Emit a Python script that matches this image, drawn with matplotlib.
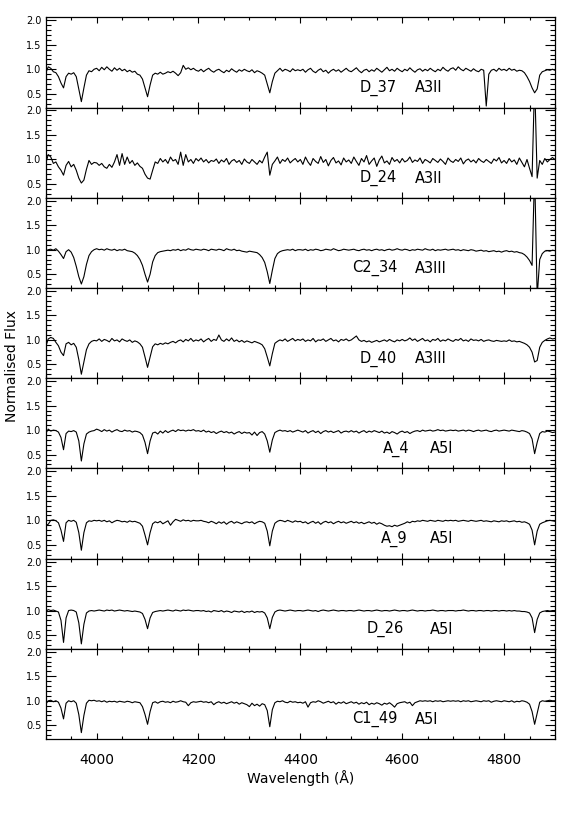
import numpy as np
import matplotlib
matplotlib.use("Agg")
import matplotlib.pyplot as plt
from matplotlib.ticker import MultipleLocator

# wavelength sampling grid (Angstrom), 5 A steps from 3900 to 4900
wavelength = np.arange(3900, 4901, 5)

names = ["D_37", "D_24", "C2_34", "D_40", "A_4", "A_9", "D_26", "C1_49"]
classes = ["A3II", "A3II", "A3III", "A3III", "A5I", "A5I", "A5I", "A5I"]
name_x = [4517, 4517, 4501, 4517, 4562, 4558, 4531, 4501]
class_x = [4625, 4625, 4625, 4625, 4654, 4654, 4654, 4625]

flux_D37 = [
 0.92, 1.05, 1.02, 0.95, 0.93, 0.85, 0.72, 0.62, 0.85, 0.92, 0.90, 0.93, 0.85, 0.60, 0.34, 0.62, 0.88, 0.97, 0.95, 1.00,
 1.02, 0.97, 1.04, 0.99, 1.05, 1.00, 0.96, 1.03, 0.98, 1.02, 0.97, 1.00, 0.95, 0.98, 0.94, 0.96, 0.90, 0.88, 0.80, 0.62,
 0.44, 0.68, 0.88, 0.92, 0.90, 0.94, 0.90, 0.92, 0.95, 0.93, 0.96, 0.92, 0.87, 0.93, 1.08, 1.00, 1.03, 0.99, 1.02, 0.98,
 0.96, 1.00, 0.95, 0.99, 1.02, 0.97, 0.94, 0.98, 1.00, 0.96, 0.93, 0.98, 0.95, 1.01, 0.97, 0.94, 0.99, 0.96, 1.00, 0.97,
 0.95, 0.99, 0.93, 0.97, 0.95, 0.92, 0.88, 0.70, 0.52, 0.75, 0.92, 0.97, 1.02, 0.96, 1.00, 0.98, 0.95, 1.01, 0.97, 0.99,
 0.97, 1.00, 0.94, 0.99, 1.02, 0.96, 0.93, 0.98, 1.01, 0.95, 0.98, 0.92, 0.97, 1.00, 0.96, 0.99, 0.94, 0.98, 1.02, 0.97,
 0.95, 0.99, 1.03, 0.97, 0.93, 0.98, 1.00, 0.95, 0.99, 0.96, 1.02, 0.98, 0.94, 0.99, 1.04, 0.97, 1.00, 0.96, 1.02, 0.98,
 0.95, 1.00, 0.97, 1.03, 0.98, 0.94, 0.99, 1.01, 0.96, 1.00, 0.97, 1.02, 0.98, 0.95, 1.00, 0.97, 1.04, 0.99, 0.96, 1.01,
 1.03, 0.98, 1.05, 1.00, 0.97, 1.02, 0.99, 0.96, 1.01, 0.97, 0.95, 1.00, 0.98, 0.25, 0.90, 0.98, 1.00, 0.96, 1.02, 0.98,
 1.00, 0.97, 1.02, 0.98, 1.00, 0.96, 0.98, 0.97, 0.93, 0.85, 0.75, 0.62, 0.52, 0.60, 0.88, 0.95, 0.97, 0.99, 0.98, 1.00,
 0.98]

flux_D24 = [
 0.92, 1.10, 1.05, 0.92, 0.95, 0.85, 0.78, 0.68, 0.88, 0.96, 0.85, 0.90, 0.78, 0.62, 0.52, 0.58, 0.80, 0.98, 0.90, 0.94,
 0.93, 0.88, 0.92, 0.85, 0.82, 0.90, 0.84, 0.95, 1.10, 0.88, 1.12, 0.90, 1.05, 0.92, 0.98, 0.88, 0.93, 0.86, 0.82, 0.70,
 0.62, 0.60, 0.78, 0.95, 0.92, 1.02, 0.95, 1.00, 0.92, 1.05, 0.97, 1.00, 0.90, 1.15, 0.88, 1.10, 0.95, 1.00, 0.92, 1.02,
 0.97, 1.03, 0.95, 1.00, 0.93, 0.98, 0.96, 1.01, 0.92, 0.99, 0.95, 1.02, 0.90, 0.97, 1.00, 0.94, 0.98, 0.90, 1.01, 0.95,
 0.92, 1.00, 0.95, 0.90, 0.98, 0.93, 1.05, 1.15, 0.68, 0.90, 0.97, 1.05, 0.92, 1.00, 0.96, 1.03, 0.93, 0.98, 1.02, 0.95,
 1.00, 0.90, 1.05, 0.95, 0.88, 1.02, 0.96, 0.92, 1.06, 0.94, 1.00, 0.87, 0.98, 1.04, 0.93, 0.97, 0.89, 1.03, 0.95, 0.99,
 0.92, 1.05, 0.96, 0.88, 1.02, 0.95, 1.08, 0.90, 0.97, 1.03, 0.86, 0.99, 1.07, 0.93, 0.97, 0.90, 1.04, 0.96, 1.00, 0.93,
 1.02, 0.95, 0.98, 1.05, 0.94, 0.99, 0.96, 1.03, 0.92, 1.00, 0.97, 0.93, 1.02, 0.98, 0.94, 1.01, 0.96, 0.90, 1.03, 0.97,
 0.94, 1.00, 0.96, 1.03, 0.91, 0.98, 1.01, 0.95, 0.99, 0.93, 1.02, 0.97, 0.94, 1.00, 0.96, 0.92, 1.01, 0.97, 1.04, 0.93,
 0.98, 0.92, 1.02, 0.95, 0.99, 0.90, 1.03, 0.94, 0.85, 1.00, 0.82, 0.65, 2.60, 0.62, 0.98, 0.90, 1.02, 0.95, 1.00, 1.04,
 1.00]

flux_C234 = [
 0.97, 1.00, 1.01, 0.99, 1.02, 0.97, 0.90, 0.82, 0.96, 1.00, 0.95, 0.84, 0.66, 0.45, 0.30, 0.45, 0.70, 0.88, 0.96, 1.00,
 1.02, 1.00, 1.01, 0.99, 1.02, 1.00, 0.99, 1.01, 0.98, 1.00, 0.99, 1.01, 0.98, 0.97, 0.96, 0.93, 0.88, 0.80, 0.68, 0.50,
 0.34, 0.50, 0.75, 0.88, 0.94, 0.96, 0.97, 0.98, 0.99, 0.98, 1.00, 0.99, 1.01, 0.98, 1.00, 0.99, 1.02, 1.00, 0.99, 1.01,
 1.00, 0.99, 1.01, 1.00, 0.98, 1.01, 1.00, 0.99, 1.01, 1.00, 0.98, 1.02, 1.00, 0.99, 1.01, 0.98, 0.99, 0.97, 0.96, 0.95,
 0.97, 0.96, 0.95, 0.94, 0.90, 0.84, 0.74, 0.55, 0.31, 0.58, 0.82, 0.92, 0.96, 0.98, 0.99, 1.00, 0.99, 1.01, 0.98, 1.00,
 1.00, 0.99, 1.01, 0.98, 1.00, 0.99, 1.01, 1.00, 0.98, 0.99, 1.01, 1.00, 0.99, 1.02, 1.00, 0.98, 0.99, 1.01, 1.00, 0.99,
 1.00, 1.01, 0.99, 0.98, 1.00, 1.01, 0.99, 1.00, 0.98, 1.00, 1.01, 0.99, 1.00, 0.98, 1.00, 1.01, 0.99, 1.00, 1.02, 1.00,
 0.99, 1.01, 1.00, 0.98, 1.00, 0.99, 1.01, 1.00, 0.99, 1.02, 1.00, 0.99, 1.01, 0.98, 1.00, 0.99, 1.00, 1.01, 0.99, 1.00,
 1.01, 0.99, 1.00, 0.98, 1.00, 0.99, 0.98, 1.00, 0.99, 0.97, 0.98, 0.99, 0.97, 0.98, 0.96, 0.97, 0.98, 0.96, 0.97, 0.95,
 0.97, 0.98, 0.96, 0.97, 0.95, 0.96, 0.94, 0.93, 0.90, 0.85, 0.78, 0.68, 2.60, 0.05, 0.80, 0.92, 0.97, 0.98, 0.97, 0.99,
 0.98]

flux_D40 = [
 0.86, 1.02, 1.05, 1.03, 0.95, 0.88, 0.75, 0.68, 0.92, 0.95, 0.90, 0.93, 0.85, 0.60, 0.30, 0.55, 0.80, 0.92, 0.97, 0.99,
 0.98, 1.02, 0.97, 1.01, 0.99, 0.96, 1.03, 0.98, 1.00, 0.96, 1.02, 0.99, 0.97, 1.00, 0.95, 0.98, 0.96, 0.92, 0.85, 0.65,
 0.44, 0.65, 0.86, 0.92, 0.90, 0.93, 0.91, 0.94, 0.92, 0.95, 0.97, 0.94, 0.98, 1.00, 0.96, 1.01, 0.98, 1.03, 0.97, 1.00,
 0.98, 1.02, 0.96, 1.00, 1.03, 0.97, 1.01, 0.99, 1.10, 1.00, 0.97, 1.02, 0.98, 1.04, 0.97, 1.00, 0.96, 0.99, 0.95, 0.98,
 0.96, 0.94, 0.97, 0.95, 0.93, 0.90, 0.82, 0.65, 0.47, 0.72, 0.93, 0.97, 1.00, 0.98, 1.02, 0.97, 1.00, 1.03, 0.98, 1.01,
 0.99, 1.02, 0.97, 1.00, 0.98, 1.03, 0.96, 1.00, 0.99, 1.02, 0.97, 1.00, 1.03, 0.98, 1.00, 0.96, 1.01, 0.99, 1.02, 0.98,
 1.00, 1.04, 1.08, 1.00, 0.97, 0.99, 0.96, 0.98, 0.95, 0.97, 0.99, 0.96, 0.98, 1.00, 0.97, 1.01, 0.98, 0.96, 1.00, 0.98,
 1.01, 0.98, 1.00, 1.04, 0.99, 1.02, 0.97, 1.00, 1.03, 0.98, 1.00, 0.96, 1.01, 0.99, 1.03, 0.97, 1.00, 0.98, 1.02, 0.99,
 0.97, 1.01, 0.99, 1.03, 0.98, 1.00, 0.97, 1.02, 0.99, 1.00, 0.98, 1.01, 0.97, 0.99, 1.00, 0.98, 0.97, 0.99, 0.98, 0.97,
 0.98, 0.97, 1.00, 0.97, 0.98, 0.96, 0.97, 0.95, 0.93, 0.90, 0.85, 0.75, 0.55, 0.58, 0.85, 0.95, 0.99, 1.02, 1.04, 1.02,
 1.03]

flux_A4 = [
 0.93, 1.02, 0.98, 1.00, 0.99, 0.96, 0.85, 0.60, 0.93, 0.98, 0.97, 0.99, 0.96, 0.78, 0.37, 0.72, 0.92, 0.96, 0.98, 0.99,
 1.02, 1.00, 0.97, 1.01, 0.98, 1.00, 0.96, 0.99, 1.01, 0.98, 0.97, 1.00, 0.98, 0.99, 0.96, 0.98, 0.97, 0.95, 0.90, 0.75,
 0.52, 0.78, 0.94, 0.96, 0.92, 0.98, 0.94, 0.99, 0.95, 0.98, 1.00, 0.97, 1.01, 0.99, 1.00, 0.98, 1.00, 0.99, 1.01, 0.98,
 0.99, 0.97, 1.00, 0.96, 0.98, 0.95, 0.97, 0.93, 0.96, 0.98, 0.95, 0.97, 0.94, 0.96, 0.92, 0.95, 0.97, 0.93, 0.96, 0.94,
 0.95, 0.90, 0.96, 0.89, 0.95, 0.97, 0.92, 0.78, 0.55, 0.80, 0.95, 0.98, 1.00, 0.98, 0.99, 0.97, 0.99, 0.96, 0.98, 1.00,
 0.98, 0.96, 0.99, 0.94, 0.97, 0.99, 0.95, 0.98, 0.93, 0.97, 0.99, 0.96, 0.98, 0.95, 0.97, 0.99, 0.94, 0.97, 0.98, 0.96,
 0.99, 0.96, 0.98, 0.94, 0.97, 0.99, 0.95, 0.98, 0.96, 0.99, 0.97, 0.95, 0.98, 0.94, 0.96, 0.93, 0.97, 0.95, 0.92, 0.96,
 0.98, 0.95, 0.97, 0.93, 0.96, 0.98, 0.99, 0.97, 1.00, 0.98, 0.99, 1.00, 0.98, 0.99, 1.01, 0.99, 1.00, 0.98, 0.99, 1.00,
 0.99, 1.00, 0.98, 0.99, 1.00, 0.98, 1.00, 0.99, 0.97, 0.99, 1.00, 0.98, 0.99, 1.00, 0.98, 0.97, 0.99, 1.00, 0.98, 0.99,
 1.00, 0.99, 0.98, 1.00, 0.99, 0.98, 0.97, 0.99, 0.98, 0.96, 0.93, 0.82, 0.52, 0.75, 0.93, 0.97, 0.96, 0.98, 0.97, 0.95,
 0.96]

flux_A9 = [
 0.90, 0.92, 1.00, 1.01, 0.99, 0.95, 0.80, 0.57, 0.95, 1.00, 0.98, 1.00, 0.96, 0.75, 0.39, 0.75, 0.95, 0.99, 0.98, 1.00,
 0.99, 1.00, 0.98, 1.00, 0.97, 0.99, 0.95, 0.98, 1.00, 0.99, 0.97, 0.98, 0.96, 0.99, 0.97, 0.98, 0.96, 0.94, 0.88, 0.70,
 0.50, 0.75, 0.93, 0.97, 0.95, 0.98, 0.93, 0.96, 0.99, 0.90, 0.97, 1.02, 1.00, 0.98, 1.01, 0.99, 1.00, 0.98, 1.00, 0.99,
 0.99, 1.00, 0.98, 0.97, 0.95, 0.98, 0.96, 0.93, 0.97, 0.94, 0.97, 0.92, 0.96, 0.98, 0.94, 0.97, 0.95, 0.93, 0.96, 0.97,
 0.95, 0.97, 0.93, 0.96, 0.98, 0.97, 0.94, 0.78, 0.48, 0.78, 0.94, 0.98, 1.00, 0.99, 0.97, 1.00, 0.98, 0.96, 0.99, 0.97,
 0.98, 0.95, 0.97, 0.93, 0.96, 0.98, 0.94, 0.97, 0.92, 0.96, 0.98, 0.95, 0.97, 0.93, 0.96, 0.98, 0.95, 0.97, 0.94, 0.96,
 0.98, 0.95, 0.97, 0.94, 0.96, 0.93, 0.95, 0.97, 0.94, 0.96, 0.92, 0.95, 0.93, 0.90, 0.88, 0.89, 0.87, 0.90, 0.88, 0.90,
 0.92, 0.94, 0.97, 0.95, 0.98, 0.97, 0.99, 0.98, 1.00, 0.99, 0.98, 1.00, 0.99, 0.98, 1.00, 0.99, 0.98, 1.00, 0.99, 1.00,
 0.99, 1.00, 0.98, 0.99, 1.00, 0.99, 0.98, 1.00, 0.99, 0.98, 0.99, 1.00, 0.98, 0.99, 0.98, 0.97, 0.99, 0.98, 0.97, 0.99,
 0.98, 0.99, 0.97, 0.98, 0.99, 0.97, 0.98, 0.96, 0.97, 0.95, 0.92, 0.80, 0.50, 0.78, 0.92, 0.95, 0.97, 0.99, 1.00, 0.99,
 0.98]

flux_D26 = [
 0.98, 1.02, 1.00, 1.01, 0.99, 0.97, 0.80, 0.35, 0.85, 1.00, 1.01, 1.00, 0.97, 0.75, 0.32, 0.72, 0.95, 0.99, 1.00, 0.99,
 1.00, 1.01, 1.00, 0.99, 1.01, 1.00, 1.01, 0.99, 1.00, 1.01, 1.00, 0.99, 1.00, 0.99, 0.98, 0.99, 0.98, 0.97, 0.94, 0.82,
 0.63, 0.85, 0.96, 0.98, 0.99, 1.00, 0.99, 1.00, 1.01, 1.00, 0.99, 1.01, 1.00, 0.99, 1.01, 1.00, 1.01, 1.00, 0.99, 1.00,
 1.00, 0.99, 1.00, 0.98, 0.99, 0.97, 1.00, 0.99, 0.98, 1.00, 0.97, 0.99, 0.98, 0.96, 0.99, 0.98, 0.97, 0.99, 0.96, 0.98,
 0.97, 0.99, 0.96, 0.98, 0.97, 0.98, 0.95, 0.85, 0.63, 0.86, 0.97, 1.00, 1.01, 1.00, 0.99, 1.00, 1.01, 1.00, 0.99, 1.00,
 1.00, 0.99, 1.00, 1.01, 1.00, 0.99, 1.00, 0.98, 1.00, 1.01, 1.00, 0.99, 1.00, 1.01, 1.00, 0.99, 1.00, 1.00, 0.99, 1.00,
 1.00, 0.99, 1.00, 1.01, 1.00, 0.99, 1.00, 1.00, 0.99, 1.00, 1.01, 1.00, 0.99, 1.00, 1.00, 0.99, 1.00, 1.01, 1.00, 0.99,
 1.00, 1.00, 0.99, 1.00, 1.01, 1.00, 0.99, 1.00, 1.00, 0.99, 1.00, 1.00, 1.01, 1.00, 0.99, 1.00, 1.00, 0.99, 1.00, 1.00,
 1.00, 0.99, 1.00, 1.00, 1.01, 1.00, 0.99, 1.00, 1.00, 0.99, 1.00, 1.00, 0.99, 1.00, 1.00, 0.99, 1.00, 1.00, 0.99, 1.00,
 1.00, 0.99, 1.00, 0.99, 1.00, 0.99, 0.99, 0.98, 0.98, 0.97, 0.95, 0.85, 0.55, 0.82, 0.95, 0.98, 0.99, 1.00, 0.99, 1.00,
 1.00]

flux_C149 = [
 0.93, 1.00, 1.01, 0.98, 1.00, 0.97, 0.85, 0.63, 0.95, 1.00, 0.98, 1.00, 0.95, 0.72, 0.35, 0.70, 0.95, 1.01, 1.00, 1.01,
 0.99, 1.00, 0.98, 1.00, 0.97, 0.99, 0.98, 0.99, 0.97, 0.99, 0.98, 0.97, 0.99, 0.98, 0.96, 0.98, 0.97, 0.96, 0.88, 0.72,
 0.52, 0.78, 0.96, 0.98, 0.95, 0.98, 0.99, 0.97, 0.98, 0.96, 0.99, 0.97, 0.98, 1.00, 0.98, 0.97, 0.90, 0.96, 0.98, 0.97,
 0.98, 0.99, 0.97, 0.98, 0.96, 0.98, 0.92, 0.96, 0.98, 0.95, 0.97, 0.94, 0.96, 0.98, 0.95, 0.97, 0.93, 0.96, 0.94, 0.92,
 0.88, 0.95, 0.90, 0.93, 0.89, 0.94, 0.92, 0.80, 0.47, 0.82, 0.96, 0.99, 0.98, 1.00, 0.97, 0.96, 0.99, 0.97, 0.98, 0.96,
 0.97, 0.95, 0.98, 0.87, 0.96, 0.98, 0.97, 1.00, 0.98, 0.95, 0.97, 0.99, 0.96, 0.98, 0.93, 0.97, 0.95, 0.98, 0.94, 0.96,
 0.98, 0.95, 0.97, 0.93, 0.96, 0.94, 0.97, 0.92, 0.95, 0.93, 0.96, 0.94, 0.91, 0.95, 0.93, 0.96, 0.92, 0.87, 0.94, 0.96,
 0.97, 0.98, 0.95, 0.97, 0.90, 0.96, 0.98, 1.00, 0.99, 1.00, 0.99, 1.00, 0.98, 1.00, 0.99, 1.00, 0.98, 0.99, 1.00, 0.99,
 1.00, 0.99, 1.00, 0.98, 1.00, 0.99, 1.00, 0.98, 0.99, 1.00, 0.99, 0.98, 1.00, 0.99, 1.00, 0.97, 0.99, 1.00, 0.99, 0.98,
 1.00, 0.99, 0.98, 1.00, 0.97, 0.99, 0.98, 1.00, 0.99, 0.97, 0.93, 0.78, 0.52, 0.75, 0.97, 1.00, 0.99, 1.00, 1.01, 1.00,
 1.00]

spectra = [flux_D37, flux_D24, flux_C234, flux_D40, flux_A4, flux_A9, flux_D26, flux_C149]
for s in spectra:
    assert len(s) == len(wavelength), len(s)

W, H = 566, 822
fig = plt.figure(figsize=(W / 100, H / 100), dpi=100)
left, right = 45.7 / W, 555.0 / W
top, bottom = 1 - 17.3 / H, 1 - 739.0 / H
n = len(spectra)
ph = (top - bottom) / n

for i, (flux, nm, cl, nx, cx) in enumerate(zip(spectra, names, classes, name_x, class_x)):
    ax = fig.add_axes([left, top - (i + 1) * ph, right - left, ph])
    ax.plot(wavelength, flux, color="black", lw=0.8)
    ax.set_xlim(3900, 4900)
    ax.set_ylim(0.22, 2.06)
    ax.yaxis.set_major_locator(MultipleLocator(0.5))
    ax.yaxis.set_minor_locator(MultipleLocator(0.1))
    ax.xaxis.set_major_locator(MultipleLocator(200))
    ax.xaxis.set_minor_locator(MultipleLocator(50))
    ax.set_yticks([0.5, 1.0, 1.5, 2.0])
    ax.set_yticklabels(["0.5", "1.0", "1.5", "2.0"])
    ax.tick_params(axis="both", which="both", direction="in", top=True, right=True, width=0.8)
    ax.tick_params(axis="y", which="major", length=7, labelsize=7, pad=3)
    ax.tick_params(axis="y", which="minor", length=3.5)
    ax.tick_params(axis="x", which="major", length=4, labelsize=10, pad=10)
    ax.tick_params(axis="x", which="minor", length=2.5)
    for sp in ax.spines.values():
        sp.set_linewidth(0.9)
    if i < n - 1:
        ax.tick_params(axis="x", labelbottom=False)
    else:
        ax.set_xlabel("Wavelength (Å)", fontsize=10, labelpad=2)
    ax.text(nx, 0.62, nm, fontsize=10.5, va="center", ha="left")
    ax.text(cx, 0.62, cl, fontsize=10.5, va="center", ha="left")

fig.text(12 / W, 1 - 366 / H, "Normalised Flux", rotation=90, fontsize=10,
         va="center", ha="center")

fig.savefig("out.png", dpi=100)
